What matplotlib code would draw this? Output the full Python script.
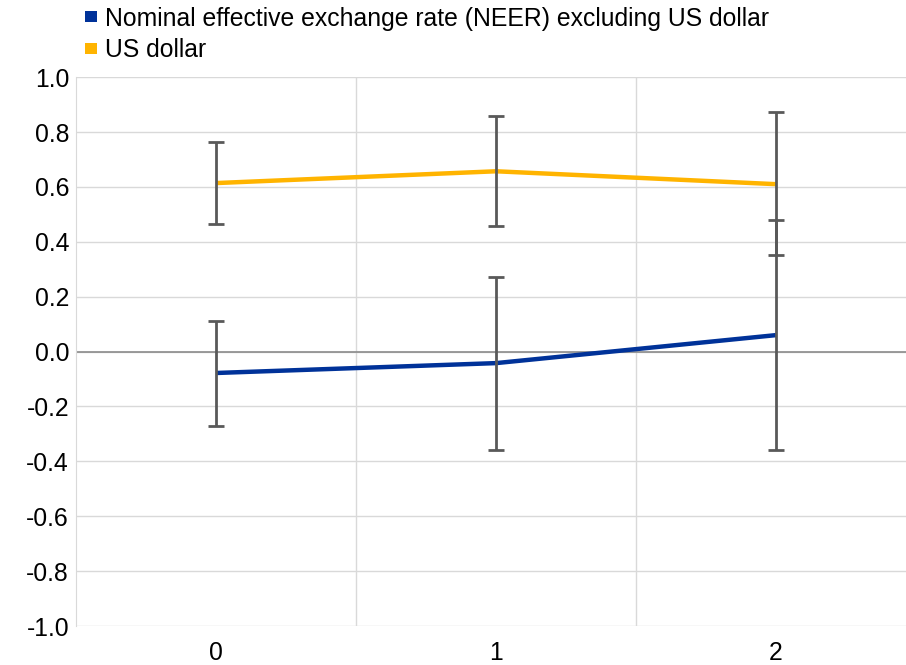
import matplotlib
matplotlib.use('Agg')
import matplotlib.pyplot as plt
from matplotlib.patches import Patch

plt.rcParams['font.family'] = ['Liberation Sans', 'DejaVu Sans']

# data
horizons = [0, 1, 2]
neer = [-0.078, -0.042, 0.060]
neer_hi = [0.111, 0.271, 0.481]
neer_lo = [-0.271, -0.359, -0.359]
usd = [0.614, 0.657, 0.610]
usd_hi = [0.763, 0.858, 0.873]
usd_lo = [0.464, 0.457, 0.351]
yticks = [-1.0, -0.8, -0.6, -0.4, -0.2, 0.0, 0.2, 0.4, 0.6, 0.8, 1.0]

BLUE = '#003299'
YELLOW = '#FFB400'
BAR = '#595959'
GRID = '#D9D9D9'
FS = 17.8

fig = plt.figure(figsize=(9.06, 6.65), dpi=100)
ax = fig.add_axes([0.0839, 0.0586, 0.9272, 0.8254])

for i in range(len(horizons)):
    ax.axvline(horizons[i] + 0.5, color=GRID, lw=1, zorder=0)
for t in yticks:
    ax.axhline(t, color=GRID, lw=1, zorder=0)
ax.axhline(0, color='#8C8C8C', lw=1.2, zorder=1)

ax.plot(horizons, usd, color=YELLOW, lw=3.2, zorder=2, solid_capstyle='butt')
ax.plot(horizons, neer, color=BLUE, lw=3.2, zorder=2, solid_capstyle='butt')

def bars(vals, hi, lo):
    err = [[v - l for v, l in zip(vals, lo)], [h - v for v, h in zip(vals, hi)]]
    ax.errorbar(horizons, vals, yerr=err, fmt='none', ecolor=BAR, elinewidth=2,
                capsize=6, capthick=2, zorder=3)

bars(usd, usd_hi, usd_lo)
bars(neer, neer_hi, neer_lo)

ax.set_xlim(-0.5, 2.5)
ax.set_ylim(-1.0, 1.0)
ax.set_xticks(horizons)
ax.set_yticks(yticks)
ax.set_yticklabels(['%.1f' % t for t in yticks])
ax.tick_params(length=0, labelsize=FS, colors='black')
ax.tick_params(axis='x', pad=10.5)
ax.tick_params(axis='y', pad=5)
for s in ['top', 'right', 'bottom']:
    ax.spines[s].set_visible(False)
ax.spines['left'].set_color(GRID)

handles = [
    Patch(facecolor=BLUE, edgecolor='none', label='Nominal effective exchange rate (NEER) excluding US dollar'),
    Patch(facecolor=YELLOW, edgecolor='none', label='US dollar'),
]
fig.legend(handles=handles, loc='upper left', bbox_to_anchor=(0.083, 1.005), frameon=False,
           fontsize=FS, handlelength=0.49, handleheight=0.29, handletextpad=0.33,
           labelspacing=0.32, borderaxespad=0)

fig.savefig('out.png', dpi=100)
